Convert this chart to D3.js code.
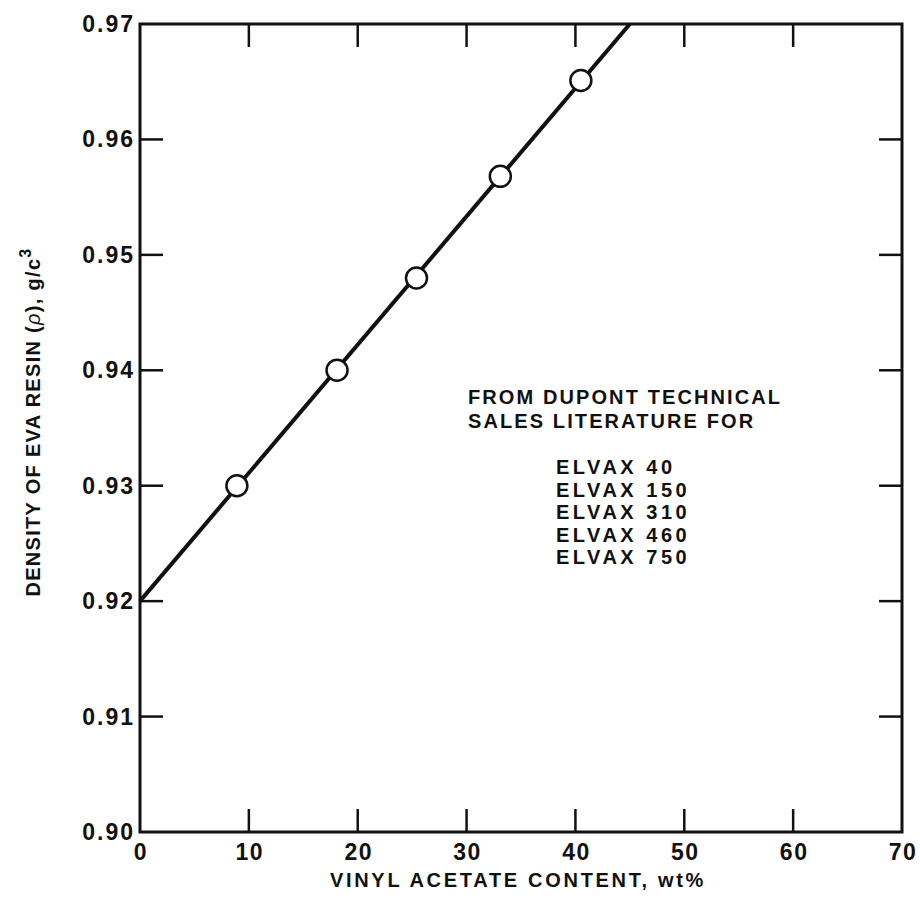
<!DOCTYPE html>
<html>
<head>
<meta charset="utf-8">
<script src="https://cdn.jsdelivr.net/npm/d3@7"></script>
<style>
  body { margin: 0; background: #fff; }
  svg text { font-family: "Liberation Sans", Arial, sans-serif; font-weight: bold; fill: #111; }
</style>
</head>
<body>
<div id="chart"></div>
<script>
// measured points (vinyl acetate wt%, density g/cc)
var vaContent = [8.9, 18.1, 25.4, 33.1, 40.5];
var density = [0.930, 0.940, 0.948, 0.9568, 0.9651];
// fitted straight line drawn through the points
var fitX = [0, 45];
var fitY = [0.920, 0.970];

var xTicks = [0, 10, 20, 30, 40, 50, 60, 70];
var yTicks = [0.90, 0.91, 0.92, 0.93, 0.94, 0.95, 0.96, 0.97];

var noteLines = ["FROM DUPONT TECHNICAL", "SALES LITERATURE FOR"];
var gradeLines = ["ELVAX 40", "ELVAX 150", "ELVAX 310", "ELVAX 460", "ELVAX 750"];

var width = 920, height = 902;
var margin = { left: 140, right: 18, top: 24, bottom: 70 };
var tickLen = 23;

var svg = d3.select("#chart").append("svg")
    .attr("width", width)
    .attr("height", height);

var x = d3.scaleLinear().domain([0, 70]).range([margin.left, width - margin.right]);
var y = d3.scaleLinear().domain([0.90, 0.97]).range([height - margin.bottom, margin.top]);

var g = svg.append("g");

// frame
g.append("rect")
    .attr("x", x(0)).attr("y", y(0.97))
    .attr("width", x(70) - x(0)).attr("height", y(0.90) - y(0.97))
    .attr("fill", "none").attr("stroke", "#111").attr("stroke-width", 3);

// inward ticks on all four sides
var inner = xTicks.slice(1, -1);
g.selectAll(".tb").data(inner).enter().append("line")
    .attr("x1", d => x(d)).attr("x2", d => x(d))
    .attr("y1", y(0.90)).attr("y2", y(0.90) - tickLen)
    .attr("stroke", "#111").attr("stroke-width", 2.5);
g.selectAll(".tt").data(inner).enter().append("line")
    .attr("x1", d => x(d)).attr("x2", d => x(d))
    .attr("y1", y(0.97)).attr("y2", y(0.97) + tickLen)
    .attr("stroke", "#111").attr("stroke-width", 2.5);
var innerY = yTicks.slice(1, -1);
g.selectAll(".tl").data(innerY).enter().append("line")
    .attr("x1", x(0)).attr("x2", x(0) + tickLen)
    .attr("y1", d => y(d)).attr("y2", d => y(d))
    .attr("stroke", "#111").attr("stroke-width", 2.5);
g.selectAll(".tr").data(innerY).enter().append("line")
    .attr("x1", x(70)).attr("x2", x(70) - tickLen)
    .attr("y1", d => y(d)).attr("y2", d => y(d))
    .attr("stroke", "#111").attr("stroke-width", 2.5);

// tick labels
g.selectAll(".xl").data(xTicks).enter().append("text")
    .attr("x", d => x(d) + 1).attr("y", y(0.90) + 28)
    .attr("text-anchor", "middle")
    .attr("font-size", 23)
    .attr("letter-spacing", 1.5)
    .text(d => d);
g.selectAll(".yl").data(yTicks).enter().append("text")
    .attr("x", x(0) - 5).attr("y", d => y(d) + 8)
    .attr("text-anchor", "end")
    .attr("font-size", 23)
    .attr("letter-spacing", 2)
    .text(d => d3.format(".2f")(d));

// axis titles
svg.append("text")
    .attr("x", 518).attr("y", 887)
    .attr("text-anchor", "middle")
    .attr("font-size", 20)
    .attr("letter-spacing", 2.7)
    .text("VINYL ACETATE CONTENT, wt%");

var yt = svg.append("text")
    .attr("transform", "translate(40,422) rotate(-90)")
    .attr("text-anchor", "middle")
    .attr("font-size", 20)
    .attr("letter-spacing", 1.3);
yt.append("tspan").text("DENSITY OF EVA RESIN (");
yt.append("tspan").attr("font-style", "italic").attr("font-weight", "normal").text("ρ");
yt.append("tspan").text("), g/c");
yt.append("tspan").attr("dy", -9).attr("font-size", 16).text("3");

// fit line
var line = d3.line().x(d => x(d[0])).y(d => y(d[1]));
g.append("path")
    .datum(d3.zip(fitX, fitY))
    .attr("d", line)
    .attr("fill", "none")
    .attr("stroke", "#111")
    .attr("stroke-width", 4);

// points
g.selectAll(".pt").data(d3.zip(vaContent, density)).enter().append("circle")
    .attr("cx", d => x(d[0])).attr("cy", d => y(d[1]))
    .attr("r", 10.5)
    .attr("fill", "#fff")
    .attr("stroke", "#111")
    .attr("stroke-width", 2.5);

// annotation
svg.selectAll(".note").data(noteLines).enter().append("text")
    .attr("x", 468).attr("y", (d, i) => 404 + i * 23.5)
    .attr("font-size", 20)
    .attr("letter-spacing", 2.1)
    .text(d => d);
svg.selectAll(".grade").data(gradeLines).enter().append("text")
    .attr("x", 556).attr("y", (d, i) => 474 + i * 22.5)
    .attr("font-size", 20)
    .attr("letter-spacing", 3.5)
    .text(d => d);
</script>
</body>
</html>
